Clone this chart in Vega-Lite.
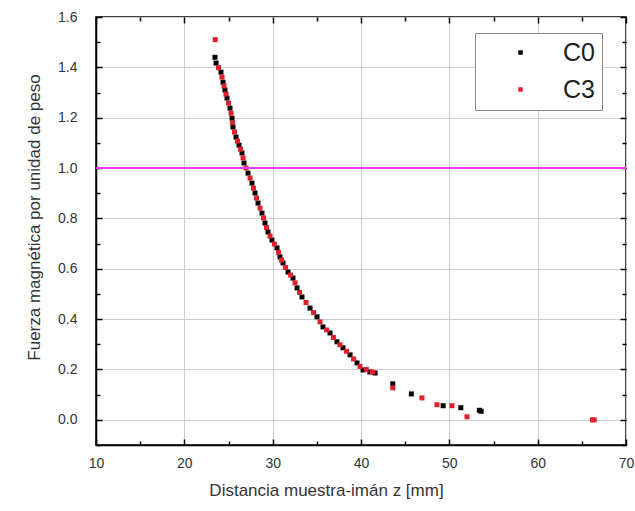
{
  "$schema": "https://vega.github.io/schema/vega-lite/v6.json",
  "width": 530,
  "height": 428,
  "autosize": {"type": "none"},
  "padding": {"left": 96, "top": 17, "right": 9, "bottom": 66},
  "background": "white",
  "config": {
    "view": {"stroke": "#000", "strokeWidth": 1.5},
    "font": "Liberation Sans",
    "axis": {
      "labelFont": "Liberation Sans",
      "titleFont": "Liberation Sans",
      "labelColor": "#333",
      "titleColor": "#333",
      "labelFontSize": 14,
      "titleFontSize": 17,
      "titleFontWeight": "normal",
      "domainColor": "#000",
      "domainWidth": 1.5,
      "tickColor": "#000",
      "tickWidth": 1.5,
      "gridColor": "#cfcfcf",
      "gridWidth": 1
    }
  },
  "datasets": {
    "pts": [
      {"x": 23.47, "y": 1.440, "s": "C0"},
      {"x": 23.59, "y": 1.417, "s": "C0"},
      {"x": 24.15, "y": 1.381, "s": "C0"},
      {"x": 24.38, "y": 1.341, "s": "C0"},
      {"x": 24.60, "y": 1.310, "s": "C0"},
      {"x": 24.83, "y": 1.278, "s": "C0"},
      {"x": 25.17, "y": 1.238, "s": "C0"},
      {"x": 25.40, "y": 1.198, "s": "C0"},
      {"x": 25.51, "y": 1.163, "s": "C0"},
      {"x": 25.85, "y": 1.123, "s": "C0"},
      {"x": 26.19, "y": 1.091, "s": "C0"},
      {"x": 26.53, "y": 1.060, "s": "C0"},
      {"x": 26.76, "y": 1.020, "s": "C0"},
      {"x": 27.21, "y": 0.980, "s": "C0"},
      {"x": 27.66, "y": 0.940, "s": "C0"},
      {"x": 28.00, "y": 0.901, "s": "C0"},
      {"x": 28.34, "y": 0.861, "s": "C0"},
      {"x": 28.79, "y": 0.821, "s": "C0"},
      {"x": 29.13, "y": 0.782, "s": "C0"},
      {"x": 29.47, "y": 0.746, "s": "C0"},
      {"x": 29.92, "y": 0.714, "s": "C0"},
      {"x": 30.49, "y": 0.683, "s": "C0"},
      {"x": 30.83, "y": 0.647, "s": "C0"},
      {"x": 31.17, "y": 0.623, "s": "C0"},
      {"x": 31.74, "y": 0.587, "s": "C0"},
      {"x": 32.30, "y": 0.563, "s": "C0"},
      {"x": 32.76, "y": 0.524, "s": "C0"},
      {"x": 33.32, "y": 0.488, "s": "C0"},
      {"x": 34.23, "y": 0.444, "s": "C0"},
      {"x": 35.02, "y": 0.409, "s": "C0"},
      {"x": 35.70, "y": 0.369, "s": "C0"},
      {"x": 36.49, "y": 0.345, "s": "C0"},
      {"x": 37.28, "y": 0.310, "s": "C0"},
      {"x": 37.96, "y": 0.286, "s": "C0"},
      {"x": 38.76, "y": 0.258, "s": "C0"},
      {"x": 39.55, "y": 0.226, "s": "C0"},
      {"x": 40.23, "y": 0.198, "s": "C0"},
      {"x": 41.00, "y": 0.190, "s": "C0"},
      {"x": 41.60, "y": 0.186, "s": "C0"},
      {"x": 43.60, "y": 0.143, "s": "C0"},
      {"x": 45.70, "y": 0.103, "s": "C0"},
      {"x": 49.30, "y": 0.056, "s": "C0"},
      {"x": 51.30, "y": 0.048, "s": "C0"},
      {"x": 53.40, "y": 0.038, "s": "C0"},
      {"x": 53.60, "y": 0.034, "s": "C0"},
      {"x": 23.50, "y": 1.510, "s": "C3"},
      {"x": 23.87, "y": 1.399, "s": "C3"},
      {"x": 24.27, "y": 1.361, "s": "C3"},
      {"x": 24.49, "y": 1.326, "s": "C3"},
      {"x": 24.72, "y": 1.294, "s": "C3"},
      {"x": 25.00, "y": 1.258, "s": "C3"},
      {"x": 25.29, "y": 1.218, "s": "C3"},
      {"x": 25.46, "y": 1.180, "s": "C3"},
      {"x": 25.68, "y": 1.143, "s": "C3"},
      {"x": 26.02, "y": 1.107, "s": "C3"},
      {"x": 26.36, "y": 1.075, "s": "C3"},
      {"x": 26.65, "y": 1.040, "s": "C3"},
      {"x": 26.99, "y": 1.000, "s": "C3"},
      {"x": 27.44, "y": 0.960, "s": "C3"},
      {"x": 27.83, "y": 0.920, "s": "C3"},
      {"x": 28.17, "y": 0.881, "s": "C3"},
      {"x": 28.57, "y": 0.841, "s": "C3"},
      {"x": 28.96, "y": 0.802, "s": "C3"},
      {"x": 29.30, "y": 0.764, "s": "C3"},
      {"x": 29.70, "y": 0.730, "s": "C3"},
      {"x": 30.20, "y": 0.698, "s": "C3"},
      {"x": 30.66, "y": 0.665, "s": "C3"},
      {"x": 31.00, "y": 0.635, "s": "C3"},
      {"x": 31.46, "y": 0.605, "s": "C3"},
      {"x": 32.03, "y": 0.575, "s": "C3"},
      {"x": 32.53, "y": 0.544, "s": "C3"},
      {"x": 33.04, "y": 0.506, "s": "C3"},
      {"x": 33.78, "y": 0.466, "s": "C3"},
      {"x": 34.63, "y": 0.426, "s": "C3"},
      {"x": 35.36, "y": 0.389, "s": "C3"},
      {"x": 36.10, "y": 0.357, "s": "C3"},
      {"x": 36.88, "y": 0.327, "s": "C3"},
      {"x": 37.62, "y": 0.298, "s": "C3"},
      {"x": 38.36, "y": 0.272, "s": "C3"},
      {"x": 39.16, "y": 0.242, "s": "C3"},
      {"x": 39.89, "y": 0.212, "s": "C3"},
      {"x": 40.60, "y": 0.200, "s": "C3"},
      {"x": 41.30, "y": 0.190, "s": "C3"},
      {"x": 43.60, "y": 0.127, "s": "C3"},
      {"x": 46.90, "y": 0.087, "s": "C3"},
      {"x": 48.60, "y": 0.060, "s": "C3"},
      {"x": 50.30, "y": 0.056, "s": "C3"},
      {"x": 52.00, "y": 0.012, "s": "C3"},
      {"x": 66.20, "y": 0.000, "s": "C3"},
      {"x": 66.40, "y": 0.000, "s": "C3"}
    ],
    "ref": [{"y": 1.0}]
  },
  "layer": [
    {
      "data": {"name": "pts"},
      "mark": {"type": "point", "shape": "square", "filled": true, "size": 25, "opacity": 1},
      "encoding": {
        "x": {
          "field": "x", "type": "quantitative",
          "scale": {"domain": [10, 70], "nice": false, "zero": false},
          "axis": {
            "orient": "bottom",
            "values": [10, 20, 30, 40, 50, 60, 70],
            "grid": true,
            "ticks": false,
            "labelPadding": 11,
            "title": "Distancia muestra-imán z [mm]",
            "titlePadding": 12,
            "titleX": 230,
            "labelFlush": false
          }
        },
        "y": {
          "field": "y", "type": "quantitative",
          "scale": {"domain": [-0.1, 1.6], "nice": false, "zero": false},
          "axis": {
            "orient": "left",
            "values": [0, 0.2, 0.4, 0.6, 0.8, 1.0, 1.2, 1.4, 1.6],
            "format": ".1f",
            "grid": true,
            "ticks": false,
            "labelPadding": 19,
            "title": "Fuerza magnética por unidad de peso",
            "titlePadding": 14,
            "titleY": 200,
            "labelFlush": false
          }
        },
        "color": {
          "field": "s", "type": "nominal",
          "scale": {"domain": ["C0", "C3"], "range": ["#000000", "#e0202c"]},
          "legend": {
            "title": null,
            "orient": "none",
            "legendX": 379,
            "legendY": 16,
            "symbolType": "square",
            "symbolSize": 20,
            "symbolOffset": 26,
            "labelOffset": 30,
            "labelFontSize": 25,
            "labelFont": "Liberation Sans",
            "labelColor": "#222",
            "rowPadding": 11,
            "padding": 7,
            "strokeColor": "#888",
            "fillColor": "white"
          }
        }
      }
    },
    {
      "data": {"name": "ref"},
      "mark": {"type": "rule", "color": "#f23cf2", "strokeWidth": 2},
      "encoding": {
        "y": {
          "field": "y", "type": "quantitative",
          "axis": {
            "orient": "left", "offset": -6, "tickSize": 6,
            "values": [0, 0.2, 0.4, 0.6, 0.8, 1.0, 1.2, 1.4, 1.6],
            "labels": false, "grid": false, "domain": false, "title": null
          }
        },
        "x": {"datum": 10, "type": "quantitative",
          "axis": {
            "orient": "bottom", "offset": -6, "tickSize": 6,
            "values": [10, 20, 30, 40, 50, 60, 70],
            "labels": false, "grid": false, "domain": false, "title": null
          }
        },
        "x2": {"datum": 70}
      }
    },
    {
      "data": {"name": "ref"},
      "mark": {"type": "rule", "color": "#f23cf2", "strokeWidth": 2},
      "encoding": {
        "y": {
          "field": "y", "type": "quantitative",
          "axis": {
            "orient": "left", "offset": -4, "tickSize": 4,
            "values": [-0.1, 0.1, 0.3, 0.5, 0.7, 0.9, 1.1, 1.3, 1.5],
            "labels": false, "grid": false, "domain": false, "title": null
          }
        },
        "x": {"datum": 10, "type": "quantitative",
          "axis": {
            "orient": "bottom", "offset": -4, "tickSize": 4,
            "values": [15, 25, 35, 45, 55, 65],
            "labels": false, "grid": false, "domain": false, "title": null
          }
        },
        "x2": {"datum": 70}
      }
    },
    {
      "data": {"name": "ref"},
      "mark": {"type": "rule", "color": "#f23cf2", "strokeWidth": 2},
      "encoding": {
        "y": {
          "field": "y", "type": "quantitative",
          "axis": {
            "orient": "right", "offset": -6, "tickSize": 6,
            "values": [0, 0.2, 0.4, 0.6, 0.8, 1.0, 1.2, 1.4, 1.6],
            "labels": false, "grid": false, "domain": false, "title": null
          }
        },
        "x": {"datum": 10, "type": "quantitative",
          "axis": {
            "orient": "top", "offset": -6, "tickSize": 6,
            "values": [10, 20, 30, 40, 50, 60, 70],
            "labels": false, "grid": false, "domain": false, "title": null
          }
        },
        "x2": {"datum": 70}
      }
    },
    {
      "data": {"name": "ref"},
      "mark": {"type": "rule", "color": "#f23cf2", "strokeWidth": 2},
      "encoding": {
        "y": {
          "field": "y", "type": "quantitative",
          "axis": {
            "orient": "right", "offset": -4, "tickSize": 4,
            "values": [-0.1, 0.1, 0.3, 0.5, 0.7, 0.9, 1.1, 1.3, 1.5],
            "labels": false, "grid": false, "domain": false, "title": null
          }
        },
        "x": {"datum": 10, "type": "quantitative",
          "axis": {
            "orient": "top", "offset": -4, "tickSize": 4,
            "values": [15, 25, 35, 45, 55, 65],
            "labels": false, "grid": false, "domain": false, "title": null
          }
        },
        "x2": {"datum": 70}
      }
    }
  ],
  "resolve": {"axis": {"x": "independent", "y": "independent"}}
}
